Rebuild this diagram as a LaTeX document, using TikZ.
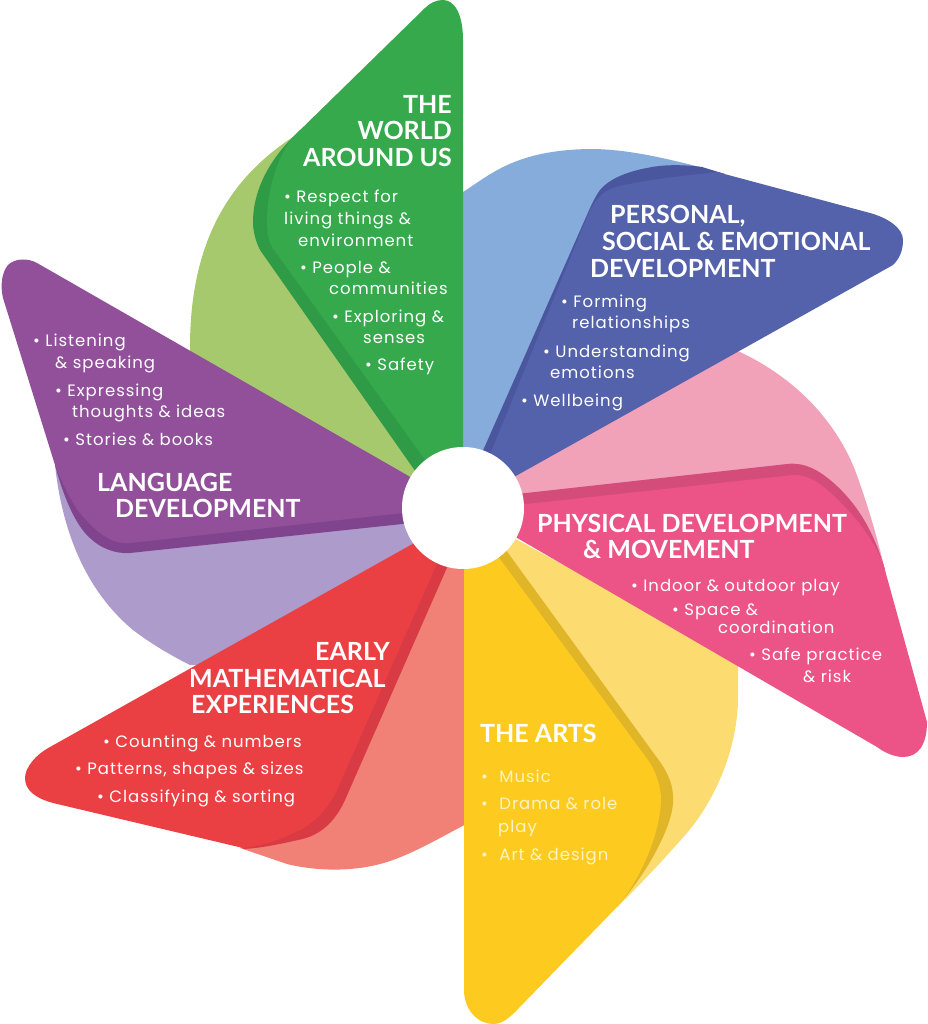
\documentclass[tikz,border=0pt]{standalone}
\usepackage{fontspec}
\setmainfont{Poppins}
\newfontfamily\headfont{Lato}
\definecolor{greenlight}{HTML}{A5C96C}
\definecolor{greendark}{HTML}{2F9B46}
\definecolor{greenmain}{HTML}{35A94B}
\definecolor{bluelight}{HTML}{86ACDC}
\definecolor{bluedark}{HTML}{4A579F}
\definecolor{bluemain}{HTML}{5461AB}
\definecolor{pinklight}{HTML}{F2A2B8}
\definecolor{pinkdark}{HTML}{D44C79}
\definecolor{pinkmain}{HTML}{EC5488}
\definecolor{yellowlight}{HTML}{FCDC71}
\definecolor{yellowdark}{HTML}{E0B528}
\definecolor{yellowmain}{HTML}{FDCB1F}
\definecolor{yellowtext}{HTML}{FFF2C4}
\definecolor{redlight}{HTML}{F18076}
\definecolor{reddark}{HTML}{D83B43}
\definecolor{redmain}{HTML}{EB4043}
\definecolor{purplelight}{HTML}{AC9BCB}
\definecolor{purpledark}{HTML}{80448E}
\definecolor{purplemain}{HTML}{92509B}
\begin{document}
\begin{tikzpicture}
  [x=1pt,y=-1pt,
   headtext/.style={anchor=base west,inner sep=0pt,text=white,font=\headfont\bfseries\fontsize{25}{26}\selectfont},
   itemtext/.style={anchor=base west,inner sep=0pt,text=white,font=\addfontfeature{LetterSpace=6}\fontsize{16.5}{20}\selectfont}]
  \useasboundingbox (0,0) rectangle (927,1024);

  \fill[greenlight] (293,137) .. controls (235,175) and (190,235) .. (190,347) -- (190,380) -- (440,490) -- cycle;
  \fill[bluelight] (463,192) .. controls (490,175) and (515,150) .. (590,149) .. controls (625,149) and (660,157) .. (700,167) -- (600,300) -- (500,460) -- (463,508) -- cycle;
  \fill[pinklight] (720,345) -- (740,352) .. controls (795,378) and (835,420) .. (855,470) .. controls (866,500) and (877,535) .. (886,575) -- (530,505) -- (500,480) -- cycle;
  \fill[yellowlight] (490,525) -- (738,660) -- (738,700) .. controls (737,750) and (715,800) .. (687,833) .. controls (665,858) and (640,885) .. (617,907) -- (480,600) -- cycle;
  \fill[redlight] (240,848) -- (287,864) .. controls (320,872) and (360,872) .. (393,860) .. controls (420,850) and (445,835) .. (470,822) -- (470,560) -- (440,560) -- cycle;
  \fill[purplelight] (55,465) .. controls (62,530) and (85,590) .. (133,630) .. controls (150,643) and (170,655) .. (190,665) -- (200,665) -- (440,530) -- (440,500) -- (100,470) -- cycle;

  \fill[greendark] (300,130) -- (293,137) .. controls (265,165) and (253,195) .. (253,222) .. controls (253,232) and (256,242) .. (260,250) -- (425,485) -- (440,480) -- cycle;
  \fill[bluedark] (725,174) -- (702,167) .. controls (680,164) and (660,165) .. (647,168) .. controls (625,172) and (608,180) .. (600,190) .. controls (595,197) and (593,202) .. (590,208) -- (470,480) -- (500,470) -- (620,300) -- cycle;
  \fill[pinkdark] (490,497) -- (787,464) .. controls (805,462) and (820,470) .. (838,487) .. controls (860,508) and (875,535) .. (885,570) -- (530,520) -- cycle;
  \fill[yellowdark] (495,535) -- (655,755) .. controls (668,772) and (674,785) .. (673,803) .. controls (672,825) and (650,870) .. (617,907) -- (480,700) -- cycle;
  \fill[reddark] (460,538) -- (345,800) .. controls (335,822) and (320,836) .. (298,840) .. controls (280,844) and (262,848) .. (243,849) -- (300,700) -- cycle;
  \fill[purpledark] (55,465) .. controls (63,495) and (75,525) .. (90,538) .. controls (100,548) and (115,554) .. (130,553) -- (440,520) -- (300,450) -- cycle;

  \fill[greenmain] (463,508) -- (463,40) .. controls (463,15) and (455,0) .. (443,0) .. controls (436,0) and (430,3) .. (425,8) -- (293,137) .. controls (275,160) and (267,195) .. (267,220) .. controls (267,230) and (268,240) .. (272,247) -- (441,482) -- cycle;
  \fill[bluemain] (480,479) -- (587,217) .. controls (596,197) and (603,190) .. (620,186) .. controls (645,180) and (680,176) .. (717,172) -- (870,213) .. controls (888,218) and (903,228) .. (903,240) .. controls (903,250) and (900,258) .. (893,265) -- (480,496) -- cycle;
  \fill[pinkmain] (490,508) -- (793,475) .. controls (810,474) and (825,486) .. (845,507) .. controls (865,528) and (875,545) .. (883,563) -- (927,722) .. controls (927,745) and (918,757) .. (903,757) .. controls (895,757) and (885,753) .. (877,747) -- (500,528) -- cycle;
  \fill[yellowmain] (464,508) -- (464,990) .. controls (464,1010) and (478,1024) .. (493,1024) .. controls (503,1024) and (510,1017) .. (517,1010) -- (617,907) .. controls (640,880) and (660,835) .. (661,800) .. controls (661,785) and (655,770) .. (648,760) -- (486,540) -- cycle;
  \fill[redmain] (450,523) -- (50,747) .. controls (35,755) and (25,768) .. (25,778) .. controls (25,790) and (35,798) .. (53,803) -- (243,848) .. controls (265,845) and (285,838) .. (293,833) .. controls (315,825) and (330,805) .. (337,790) -- (450,534) -- cycle;
  \fill[purplemain] (440,494) -- (37,263) .. controls (28,258) and (15,258) .. (8,265) .. controls (2,272) and (0,285) .. (3,298) -- (55,465) .. controls (65,490) and (75,510) .. (88,522) .. controls (100,535) and (115,545) .. (130,543) -- (440,509) -- cycle;

  \node[circle,fill=white,minimum size=122pt,inner sep=0pt] (hub) at (463,508) {};

  \node[headtext,anchor=base east] (world1) at (452,114) {THE};
  \node[headtext,anchor=base east] (world2) at (452,140) {WORLD};
  \node[headtext,anchor=base east] (world3) at (452,167) {AROUND US};
  \node[itemtext] (world4) at (284,203) {• Respect for};
  \node[itemtext] (world5) at (284,225) {living things \&};
  \node[itemtext] (world6) at (298,247) {environment};
  \node[itemtext] (world7) at (300,273) {• People \&};
  \node[itemtext] (world8) at (329,294) {communities};
  \node[itemtext] (world9) at (332,322) {• Exploring \&};
  \node[itemtext] (world10) at (363,343) {senses};
  \node[itemtext] (world11) at (365,370) {• Safety};

  \node[headtext] (social1) at (610,224) {PERSONAL,};
  \node[headtext] (social2) at (602,251) {SOCIAL \& EMOTIONAL};
  \node[headtext] (social3) at (590,277) {DEVELOPMENT};
  \node[itemtext] (social4) at (561,307) {• Forming};
  \node[itemtext] (social5) at (572,328) {relationships};
  \node[itemtext] (social6) at (543,357) {• Understanding};
  \node[itemtext] (social7) at (550,378) {emotions};
  \node[itemtext] (social8) at (521,406) {• Wellbeing};

  \node[headtext] (moving1) at (537,532) {PHYSICAL DEVELOPMENT};
  \node[headtext] (moving2) at (583,558) {\& MOVEMENT};
  \node[itemtext] (moving3) at (631,591) {• Indoor \& outdoor play};
  \node[itemtext] (moving4) at (672,615) {• Space \&};
  \node[itemtext] (moving5) at (718,633) {coordination};
  \node[itemtext] (moving6) at (749,660) {• Safe practice};
  \node[itemtext] (moving7) at (803,682) {\& risk};

  \node[headtext] (arts1) at (480,742) {THE ARTS};
  \node[itemtext,text=yellowtext] (arts2) at (481,782) {•\hspace{6pt} Music};
  \node[itemtext,text=yellowtext] (arts3) at (481,809) {•\hspace{6pt} Drama \& role};
  \node[itemtext,text=yellowtext] (arts4) at (498,832) {play};
  \node[itemtext,text=yellowtext] (arts5) at (481,860) {•\hspace{6pt} Art \& design};

  \node[headtext,anchor=base east] (maths1) at (390,660) {EARLY};
  \node[headtext] (maths2) at (189,687) {MATHEMATICAL};
  \node[headtext] (maths3) at (191,713) {EXPERIENCES};
  \node[itemtext] (maths4) at (103,747) {• Counting \& numbers};
  \node[itemtext] (maths5) at (75,774) {• Patterns, shapes \& sizes};
  \node[itemtext] (maths6) at (97,802) {• Classifying \& sorting};

  \node[itemtext] (lang1) at (33,346) {• Listening};
  \node[itemtext] (lang2) at (55,368) {\& speaking};
  \node[itemtext] (lang3) at (55,396) {• Expressing};
  \node[itemtext] (lang4) at (72,417) {thoughts \& ideas};
  \node[itemtext] (lang5) at (63,445) {• Stories \& books};
  \node[headtext] (lang6) at (97,491) {LANGUAGE};
  \node[headtext] (lang7) at (115,517) {DEVELOPMENT};
\end{tikzpicture}
\end{document}
